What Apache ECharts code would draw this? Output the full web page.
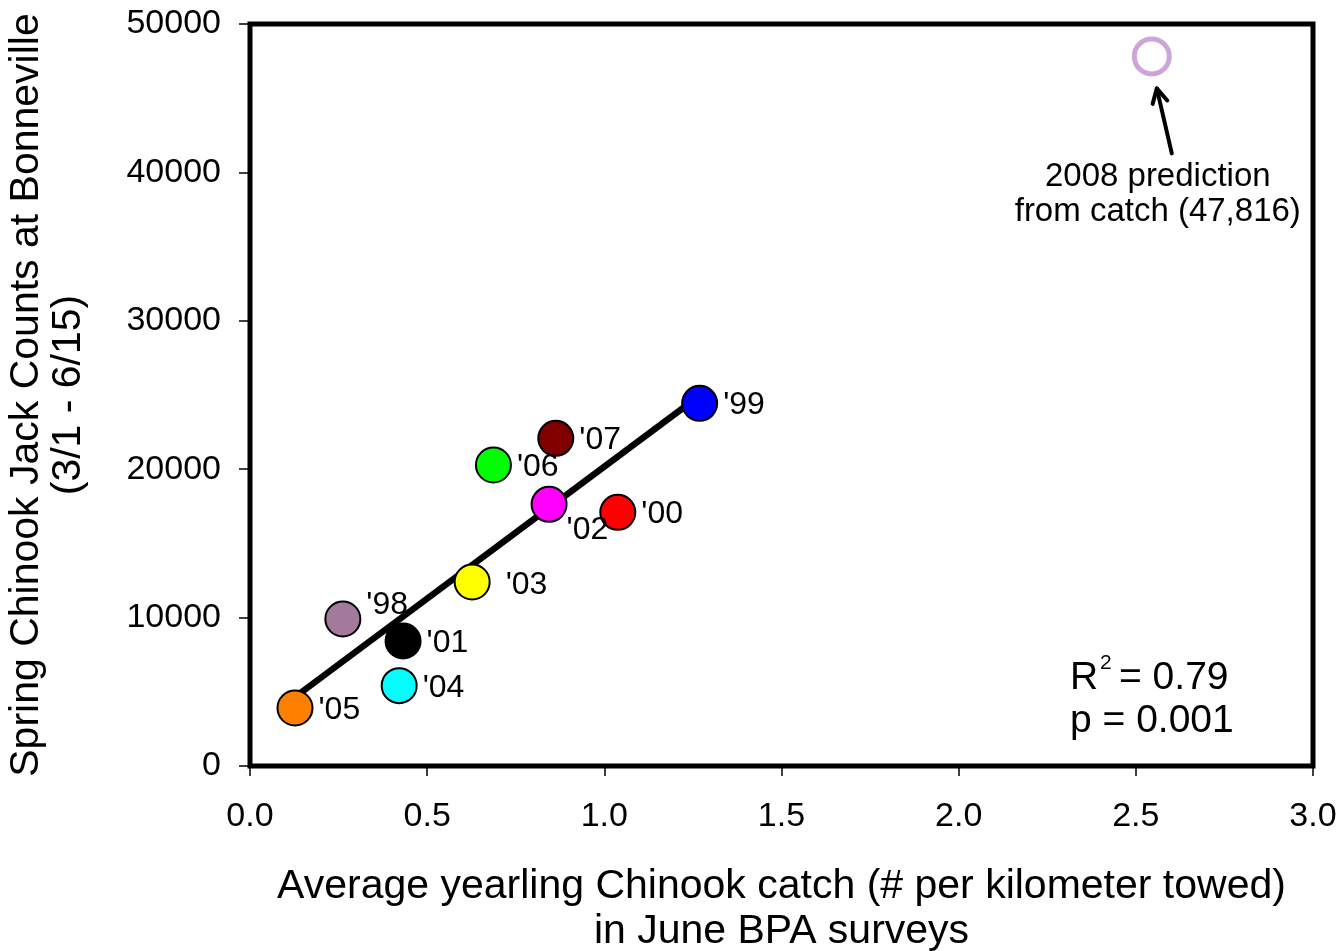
<!DOCTYPE html>
<html>
<head>
<meta charset="utf-8">
<script src="https://cdn.jsdelivr.net/npm/echarts@6/dist/echarts.min.js"></script>
<style>
  html, body { margin: 0; padding: 0; background: #ffffff; }
  #chart { width: 1343px; height: 951px; }
</style>
</head>
<body>
<div id="chart"></div>
<script>
// Return years, June yearling catch (fish per km towed) and Bonneville jack counts
const years      = ["'98", "'99", "'00", "'01", "'02", "'03", "'04", "'05", "'06", "'07"];
const catchPerKm = [0.262, 1.269, 1.038, 0.432, 0.844, 0.627, 0.421, 0.127, 0.687, 0.863];
const jackCounts = [9906, 24441, 17096, 8423, 17635, 12399, 5411, 3908, 20283, 22082];
const yearColors = ['#a3799c', '#0000ff', '#ff0000', '#000000', '#ff00ff', '#ffff00', '#00ffff', '#ff8000', '#00ff00', '#800000'];

// Least-squares line over the observed range
const fitX = [0.127, 1.270];
const fitY = [4650, 24970];

// 2008 forecast from catch
const predictionX = [2.545];
const predictionY = [47816];

const xTickValues = [0, 0.5, 1.0, 1.5, 2.0, 2.5, 3.0];
const yTickValues = [0, 10000, 20000, 30000, 40000, 50000];

const rSquared = '0.79';
const pValue = '0.001';

const FONT = '"Liberation Sans", Arial, Helvetica, sans-serif';

// per-label nudges so year tags sit clear of the fit line
const labelNudge = {
  "'98": [0, -14],
  "'02": [-6, 26],
  "'03": [10, 3],
  "'06": [0, 2]
};

const chart = echarts.init(document.getElementById('chart'), null, { renderer: 'canvas' });

const scatterData = years.map((yr, i) => ({
  name: yr,
  value: [catchPerKm[i], jackCounts[i]],
  itemStyle: { color: yearColors[i] },
  label: { offset: labelNudge[yr] || [0, 2] }
}));

chart.setOption({
  animation: false,
  backgroundColor: '#ffffff',
  textStyle: { fontFamily: FONT, color: '#000' },
  grid: {
    left: 250, right: 30, top: 24, bottom: 185,
    outerBoundsMode: 'none', containLabel: false,
    show: true, borderColor: '#000', borderWidth: 5, backgroundColor: 'transparent'
  },
  xAxis: {
    type: 'value',
    min: xTickValues[0], max: xTickValues[xTickValues.length - 1], interval: 0.5,
    splitLine: { show: false },
    axisLine: { show: false },
    axisTick: { show: true, length: 10, lineStyle: { color: '#000', width: 1.5 } },
    axisLabel: {
      margin: 34, fontSize: 34, color: '#000', fontFamily: FONT,
      formatter: v => v.toFixed(1)
    },
    name: 'Average yearling Chinook catch (# per kilometer towed)\nin June BPA surveys',
    nameLocation: 'middle', nameGap: 98,
    nameTextStyle: { fontSize: 41, lineHeight: 45, color: '#000', fontFamily: FONT }
  },
  yAxis: {
    type: 'value',
    min: yTickValues[0], max: yTickValues[yTickValues.length - 1], interval: 10000,
    splitLine: { show: false },
    axisLine: { show: false },
    axisTick: { show: true, length: 11, lineStyle: { color: '#000', width: 1.5 } },
    axisLabel: {
      margin: 29, fontSize: 34, color: '#000', fontFamily: FONT,
      formatter: v => String(v)
    },
    name: 'Spring Chinook Jack Counts at Bonneville\n(3/1 - 6/15)',
    nameLocation: 'middle', nameGap: 160, nameRotate: 90,
    nameTextStyle: { fontSize: 41, lineHeight: 42, color: '#000', fontFamily: FONT }
  },
  series: [
    {
      type: 'line',
      data: fitX.map((x, i) => [x, fitY[i]]),
      showSymbol: false, symbol: 'none',
      lineStyle: { color: '#000', width: 6.5 },
      silent: true, z: 2
    },
    {
      type: 'scatter',
      data: scatterData,
      symbol: 'circle', symbolSize: 35,
      itemStyle: { borderColor: '#000', borderWidth: 2, opacity: 1 },
      label: {
        show: true, position: 'right', distance: 5,
        formatter: p => p.name,
        fontSize: 32, color: '#000', fontFamily: FONT
      },
      z: 3
    },
    {
      type: 'scatter',
      data: predictionX.map((x, i) => [x, predictionY[i]]),
      symbol: 'circle', symbolSize: 35,
      itemStyle: { color: '#ffffff', borderColor: '#c08fd0', borderWidth: 5 },
      z: 3
    }
  ]
});

// Annotation: arrow and caption anchored to the forecast point; fit statistics
function drawAnnotations() {
  const p = chart.convertToPixel({ seriesIndex: 2 }, [predictionX[0], predictionY[0]]);
  const tail = [p[0] + 20, p[1] + 97];
  const tip = [p[0] + 5, p[1] + 32];
  const dx = tip[0] - tail[0], dy = tip[1] - tail[1];
  const len = Math.hypot(dx, dy);
  const ux = dx / len, uy = dy / len;
  const head = 16, ang = 28 * Math.PI / 180;
  const arm = s => {
    const c = Math.cos(s * ang), sn = Math.sin(s * ang);
    const bx = -ux, by = -uy;
    return [tip[0] + head * (bx * c - by * sn), tip[1] + head * (bx * sn + by * c)];
  };
  const caption = '2008 prediction\nfrom catch (' + predictionY[0].toLocaleString('en-US') + ')';

  chart.setOption({
    graphic: [
      {
        type: 'line', z: 10,
        shape: { x1: tail[0], y1: tail[1], x2: tip[0], y2: tip[1] },
        style: { stroke: '#000', lineWidth: 4, lineCap: 'round' }
      },
      {
        type: 'polyline', z: 10,
        shape: { points: [arm(1), tip, arm(-1)] },
        style: { stroke: '#000', lineWidth: 4, fill: null, lineJoin: 'round', lineCap: 'round' }
      },
      {
        type: 'text', z: 10,
        x: p[0] + 6, y: p[1] + 138,
        style: {
          text: caption, fontSize: 33, lineHeight: 35, fontFamily: FONT, fill: '#000',
          align: 'center', verticalAlign: 'middle'
        }
      },
      {
        type: 'text', z: 10, x: 1070, y: 678,
        style: { text: 'R', fontSize: 39, fontFamily: FONT, fill: '#000', align: 'left', verticalAlign: 'middle' }
      },
      {
        type: 'text', z: 10, x: 1100, y: 663,
        style: { text: '2', fontSize: 21, fontFamily: FONT, fill: '#000', align: 'left', verticalAlign: 'middle' }
      },
      {
        type: 'text', z: 10, x: 1119, y: 678,
        style: { text: '= ' + rSquared, fontSize: 39, fontFamily: FONT, fill: '#000', align: 'left', verticalAlign: 'middle' }
      },
      {
        type: 'text', z: 10, x: 1070, y: 721,
        style: { text: 'p = ' + pValue, fontSize: 39, fontFamily: FONT, fill: '#000', align: 'left', verticalAlign: 'middle' }
      }
    ]
  });
}
drawAnnotations();
</script>
</body>
</html>
